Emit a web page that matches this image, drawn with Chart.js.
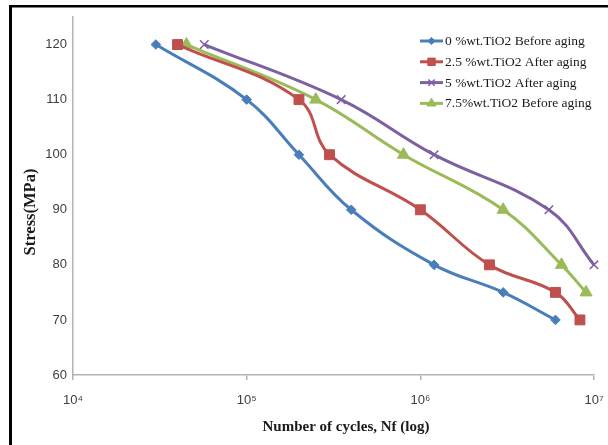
<!DOCTYPE html>
<html><head><meta charset="utf-8">
<script src="https://cdn.jsdelivr.net/npm/chart.js@4.4.1/dist/chart.umd.min.js"></script>
<style>html,body{margin:0;padding:0;background:#fff;}#wrap{width:608px;height:445px;}</style>
</head><body><div id="wrap"><canvas id="c" width="608" height="445"></canvas></div>
<script>
// ---- data ----
const seriesLabels = ['0 %wt.TiO2 Before aging', '2.5 %wt.TiO2 After aging', '5 %wt.TiO2 After aging', '7.5%wt.TiO2 Before aging'];
const cycles0  = [3e4, 1e5, 2e5, 4e5, 1.2e6, 3e6, 6e6];
const stress0  = [120, 110, 100, 90, 80, 75, 70];
const cycles25 = [4e4, 2e5, 3e5, 1e6, 2.5e6, 6e6, 8.3e6];
const stress25 = [120, 110, 100, 90, 80, 75, 70];
const cycles5  = [5.7e4, 3.5e5, 1.2e6, 5.5e6, 1e7];
const stress5  = [120, 110, 100, 90, 80];
const cycles75 = [4.5e4, 2.5e5, 8e5, 3e6, 6.5e6, 9e6];
const stress75 = [120, 110, 100, 90, 80, 75];
const yTicks = [60, 70, 80, 90, 100, 110, 120];
const xTicks = [1e4, 1e5, 1e6, 1e7];
const xTickLabels = ['10\u2074', '10\u2075', '10\u2076', '10\u2077'];
const xTitle = 'Number of cycles, Nf (log)';
const yTitle = 'Stress(MPa)';

const pts = (xs, ys) => xs.map((x, i) => ({x: x, y: ys[i]}));

function ds(label, xs, ys, color, style, r, bw) {
  return {
    label: label, data: pts(xs, ys), borderColor: color, backgroundColor: color,
    borderWidth: 3, tension: 0.4, clip: false,
    pointStyle: style, pointRadius: r, pointBackgroundColor: color, pointBorderColor: color,
    pointBorderWidth: bw, pointHoverRadius: r
  };
}

const frameAndTitles = {
  id: 'frameAndTitles',
  beforeDraw(chart) {
    const ctx = chart.ctx;
    ctx.save();
    ctx.fillStyle = '#ffffff';
    ctx.fillRect(0, 0, chart.width, chart.height);
    ctx.restore();
  },
  afterDraw(chart) {
    const ctx = chart.ctx;
    ctx.save();
    ctx.fillStyle = '#000';
    ctx.fillRect(9, 5, 3, chart.height - 5);
    ctx.fillRect(9, 5, chart.width - 9, 2.5);
    ctx.fillStyle = '#1a1a1a';
    ctx.font = 'bold 15px "Liberation Serif"';
    ctx.textAlign = 'center';
    ctx.textBaseline = 'middle';
    ctx.fillText(xTitle, 346, 427);
    ctx.translate(31, 212);
    ctx.rotate(-Math.PI / 2);
    ctx.font = 'bold 16.5px "Liberation Serif"';
    ctx.fillText(yTitle, 0, 0);
    ctx.restore();

    ctx.save();
    chart.data.datasets.forEach((d, i) => {
      const y = 41 + i * 20.8;
      ctx.strokeStyle = d.borderColor;
      ctx.lineWidth = 3;
      ctx.beginPath(); ctx.moveTo(420, y); ctx.lineTo(443, y); ctx.stroke();
      ctx.fillStyle = d.pointBackgroundColor;
      ctx.strokeStyle = d.pointBorderColor;
      ctx.lineWidth = d.pointBorderWidth;
      Chart.helpers.drawPoint(ctx, {pointStyle: d.pointStyle, radius: d.pointRadius * 0.75, rotation: 0, borderWidth: d.pointBorderWidth}, 431.5, y);
      ctx.fillStyle = '#1a1a1a';
      ctx.font = '13.5px "Liberation Serif"';
      ctx.textAlign = 'left';
      ctx.textBaseline = 'middle';
      ctx.fillText(d.label, 445, y + 0.5);
    });
    ctx.restore();
  }
};

new Chart(document.getElementById('c'), {
  type: 'line',
  data: {
    datasets: [
      ds(seriesLabels[0], cycles0, stress0, '#4a7ebb', 'rectRot', 4.8, 1),
      ds(seriesLabels[1], cycles25, stress25, '#c0504d', 'rect', 7, 1),
      ds(seriesLabels[2], cycles5, stress5, '#7d60a0', 'crossRot', 6, 1.5),
      ds(seriesLabels[3], cycles75, stress75, '#9bbb59', 'triangle', 7, 1)
    ]
  },
  options: {
    responsive: false,
    animation: false,
    devicePixelRatio: 1,
    layout: {padding: {left: 0, right: 14, top: 17, bottom: 0}},
    plugins: {legend: {display: false}, tooltip: {enabled: false}},
    scales: {
      x: {
        type: 'logarithmic', min: 1e4, max: 1e7,
        afterBuildTicks: s => { s.ticks = xTicks.map(v => ({value: v, major: true})); },
        afterFit: s => { s.height = 70; s.paddingLeft = 0; s.paddingRight = 0; },
        ticks: {
          autoSkip: false, maxRotation: 0, padding: 13,
          color: '#404040', font: {family: '"Liberation Sans"', size: 13},
          callback: (v) => { const i = xTicks.indexOf(v); return i >= 0 ? xTickLabels[i] : ''; }
        },
        grid: {drawOnChartArea: false, tickLength: 5, color: '#b3b3b3', lineWidth: 1.5},
        border: {color: '#b3b3b3', width: 1.5}
      },
      y: {
        type: 'linear', min: 60, max: 125,
        afterBuildTicks: s => { s.ticks = yTicks.map(v => ({value: v})); },
        afterFit: s => { s.width = 73; s.paddingTop = 0; s.paddingBottom = 0; },
        ticks: {padding: 6, color: '#404040', font: {family: '"Liberation Sans"', size: 13}},
        grid: {drawOnChartArea: false, drawTicks: false, color: '#b3b3b3'},
        border: {color: '#b3b3b3', width: 1.5}
      }
    }
  },
  plugins: [frameAndTitles]
});
</script></body></html>
